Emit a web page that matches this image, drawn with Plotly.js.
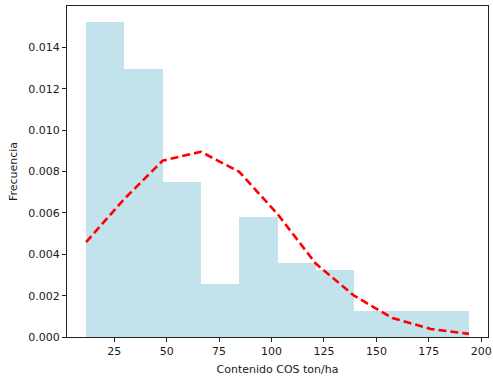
<!DOCTYPE html>
<html>
<head>
<meta charset="utf-8">
<script src="https://cdn.plot.ly/plotly-3.0.1.min.js"></script>
<style>html,body{margin:0;padding:0;background:#fff;}#chart{width:493px;height:379px;}</style>
</head>
<body>
<div id="chart"></div>
<script>
// Histogram bin edges (ton/ha) and densities
var binEdges = [11.6, 29.85, 48.1, 66.35, 84.6, 102.85, 121.1, 139.35, 157.6, 175.85, 194.1];
var density = [0.01523, 0.01297, 0.00748, 0.00258, 0.00582, 0.00359, 0.00324, 0.00127, 0.00127, 0.00127];
// Fitted curve evaluated at bin edges
var pdfValues = [0.00459, 0.00668, 0.00853, 0.00896, 0.00799, 0.00595, 0.00355, 0.00200, 0.00092, 0.00039, 0.00015];
var yTicks = [0, 0.002, 0.004, 0.006, 0.008, 0.010, 0.012, 0.014];
var xTicks = [25, 50, 75, 100, 125, 150, 175, 200];

var centers = [], widths = [];
for (var i = 0; i < density.length; i++) {
  centers.push((binEdges[i] + binEdges[i + 1]) / 2);
  widths.push(binEdges[i + 1] - binEdges[i]);
}

var bars = {
  type: 'bar', x: centers, y: density, width: widths,
  marker: {color: 'lightblue', opacity: 0.75, line: {width: 0}},
  hoverinfo: 'skip', showlegend: false
};
var curve = {
  type: 'scatter', mode: 'lines', x: binEdges, y: pdfValues,
  line: {color: 'red', width: 2.6, dash: '8px,4px'},
  showlegend: false
};

var font = {family: 'DejaVu Sans, sans-serif', size: 11, color: '#1a1a1a'};
var layout = {
  width: 493, height: 379,
  margin: {l: 67, r: 5, t: 6, b: 42, pad: 0},
  paper_bgcolor: '#fff', plot_bgcolor: '#fff',
  font: font,
  bargap: 0,
  xaxis: {
    range: [2.5, 203.2], tickvals: xTicks, ticktext: xTicks.map(String),
    showgrid: false, zeroline: false,
    showline: true, mirror: true, linecolor: '#222', linewidth: 1,
    ticks: 'outside', ticklen: 4, tickwidth: 1, tickcolor: '#222',
    tickfont: font,
    title: {text: 'Contenido COS ton/ha', font: font, standoff: 8}
  },
  yaxis: {
    range: [0, 0.01601], tickvals: yTicks, ticktext: yTicks.map(function(v){return v.toFixed(3);}),
    showgrid: false, zeroline: false,
    showline: true, mirror: true, linecolor: '#222', linewidth: 1,
    ticks: 'outside', ticklen: 4, tickwidth: 1, tickcolor: '#222',
    tickfont: font,
    title: {text: 'Frecuencia', font: font, standoff: 8}
  }
};
Plotly.newPlot('chart', [bars, curve], layout, {staticPlot: true, displayModeBar: false});
</script>
</body>
</html>
